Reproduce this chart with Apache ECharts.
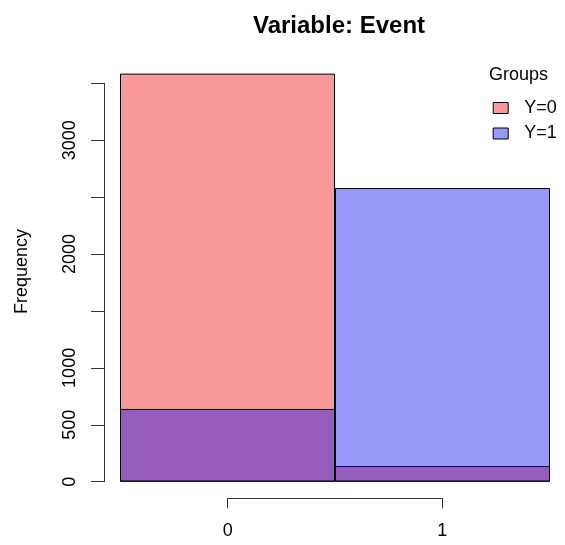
<!DOCTYPE html>
<html>
<head>
<meta charset="utf-8">
<script src="https://cdn.jsdelivr.net/npm/echarts@6/dist/echarts.min.js"></script>
<style>
  html, body { margin: 0; padding: 0; background: #fff; }
  #main { width: 565px; height: 545px; }
</style>
</head>
<body>
<div id="main"></div>
<script>
// histogram bins (Event = 0 / 1), counts per group
var categories = ['0', '1'];
var groupNames = ['Y=0', 'Y=1'];
var countsY0 = [3585, 138];
var countsY1 = [639, 2580];
var yTicks = [0, 500, 1000, 1500, 2000, 2500, 3000, 3500];

var font = 'Liberation Sans, Arial, sans-serif';

var chart = echarts.init(document.getElementById('main'));

var option = {
  animation: false,
  backgroundColor: '#fff',
  title: [
    {
      text: 'Variable: Event',
      left: 334, top: 9, textAlign: 'center',
      textStyle: { fontFamily: font, fontSize: 24, fontWeight: 'bold', color: '#000' }
    },
    {
      text: 'Groups',
      left: 489, top: 66, padding: 0,
      textStyle: { fontFamily: font, fontSize: 18, fontWeight: 'normal', color: '#000' }
    }
  ],
  legend: {
    data: groupNames,
    orient: 'vertical',
    left: 492.7, top: 99, padding: 0,
    icon: 'rect',
    itemWidth: 15, itemHeight: 11,
    itemGap: 7.5,
    itemStyle: { borderWidth: 1, borderColor: '#000' },
    textStyle: { fontFamily: font, fontSize: 18, color: '#000', padding: [0, 0, 0, 11] }
  },
  grid: [
    // bars + y axis
    { left: 120, right: 15, top: 83.3, bottom: 63.3 },
    // separate x axis, R style (spans 0..1 only)
    { left: 227.7, right: 122.7, top: 400, bottom: 46.7 }
  ],
  xAxis: [
    {
      gridIndex: 0, type: 'category', data: categories,
      show: false
    },
    {
      gridIndex: 1, type: 'value', min: 0, max: 1, interval: 1,
      axisLine: { show: true, lineStyle: { color: '#333', width: 1 } },
      axisTick: { show: true, length: 10, lineStyle: { color: '#333' } },
      axisLabel: { margin: 24, fontFamily: font, fontSize: 18, color: '#000' },
      splitLine: { show: false }
    }
  ],
  yAxis: [
    {
      gridIndex: 0, type: 'value',
      min: yTicks[0], max: yTicks[yTicks.length - 1], interval: 500,
      offset: 16,
      name: 'Frequency', nameLocation: 'middle', nameGap: 73,
      nameTextStyle: { fontFamily: font, fontSize: 18, color: '#000', padding: [0, 0, 0, 22] },
      axisLine: { show: true, lineStyle: { color: '#333', width: 1 } },
      axisTick: { show: true, length: 13, lineStyle: { color: '#333' } },
      axisLabel: {
        rotate: 90, margin: 25,
        fontFamily: font, fontSize: 18, color: '#000',
        formatter: function (v) { return v % 1000 === 0 || v === 500 ? String(v) : ''; }
      },
      splitLine: { show: false }
    },
    { gridIndex: 1, type: 'value', show: false }
  ],
  series: [
    {
      name: groupNames[0], type: 'bar',
      xAxisIndex: 0, yAxisIndex: 0,
      data: countsY0,
      barWidth: '100%', barGap: '-100%',
      clip: false,
      itemStyle: { color: 'rgba(240,0,0,0.4)', borderColor: '#000', borderWidth: 1 }
    },
    {
      name: groupNames[1], type: 'bar',
      xAxisIndex: 0, yAxisIndex: 0,
      data: countsY1,
      barWidth: '100%', barGap: '-100%',
      clip: false,
      itemStyle: { color: 'rgba(0,0,240,0.4)', borderColor: '#000', borderWidth: 1 }
    }
  ]
};

chart.setOption(option);
</script>
</body>
</html>
